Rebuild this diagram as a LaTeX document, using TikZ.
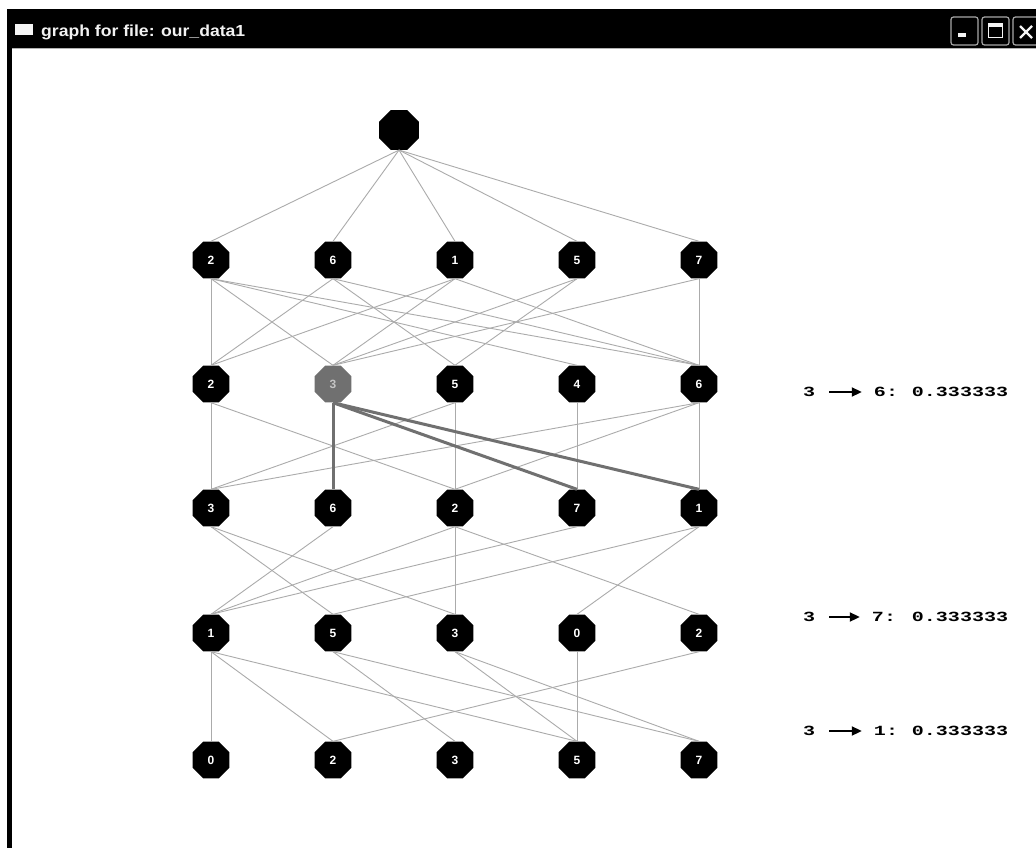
\documentclass[tikz,border=0pt]{standalone}
\usepackage{fontspec}
\usepackage{graphicx}
\setmainfont{Liberation Sans}
\newfontfamily\monofnt{Liberation Mono}
\usetikzlibrary{shapes.geometric,arrows.meta}
\definecolor{edgegray}{HTML}{ABABAB}
\definecolor{hgray}{HTML}{707070}
\definecolor{hlabel}{HTML}{C4C4C4}
\definecolor{btngray}{HTML}{A8A8A8}
\newcommand\widetxt[1]{\scalebox{1.43}[1]{#1}}
\begin{document}
\begin{tikzpicture}[x=1pt,y=-1pt,
  vtx/.style={regular polygon,regular polygon sides=8,minimum size=40pt,inner sep=0pt,
    fill=black,text=white,font=\fontsize{12}{12}\selectfont\bfseries},
  hvtx/.style={vtx,fill=hgray,text=hlabel},
  rootvtx/.style={vtx,minimum size=43pt},
  edge/.style={draw=edgegray,line width=0.9pt},
  hedge/.style={draw=hgray,line width=3pt},
  rt/.style={inner sep=0pt,font=\monofnt\bfseries\fontsize{14}{14}\selectfont},
  rarrow/.style={line width=2pt,-{Triangle[length=10pt,width=9pt]}},
  btn/.style={draw=btngray,line width=1.2pt,rounded corners=2.5pt,fill=black}
]
\useasboundingbox (0,0) rectangle (1036,848);
\fill[white] (0,0) rectangle (1036,848);
% window frame
\fill[black] (7,9) rectangle (1040,48);
\fill[black] (7,48) rectangle (12,848);
\draw[gray!60,line width=0.8pt] (12,48.6) -- (1036,48.6);
\fill[white!92!gray] (15,24) rectangle (33,35);
\node[anchor=west,inner sep=0pt,text=white!90!gray,font=\fontsize{16}{16}\selectfont\bfseries] (title) at (41,32) {\scalebox{1.1}[1]{graph for file: our\_data1}};
% buttons
\draw[btn] (951,17) rectangle (978,45);
\fill[white!92!gray] (958,33) rectangle (966,37);
\draw[btn] (982,17) rectangle (1009,45);
\draw[white!92!gray,line width=1.2pt] (988.5,23.5) rectangle (1002.5,37.5);
\fill[white!92!gray] (988,23) rectangle (1003,27);
\draw[btn] (1013,17) rectangle (1044,45);
\draw[white!92!gray,line width=2.4pt] (1020,26) -- (1032,38) (1032,26) -- (1020,38);

% nodes
\node[rootvtx] (r) at (399,130) {};
\foreach \n/\x/\l in {1/211/2,2/333/6,3/455/1,4/577/5,5/699/7}
  \node[vtx] (a\n) at (\x,260) {\l};
\node[vtx] (b1) at (211,384) {2};
\node[hvtx] (b2) at (333,384) {3};
\node[vtx] (b3) at (455,384) {5};
\node[vtx] (b4) at (577,384) {4};
\node[vtx] (b5) at (699,384) {6};
\foreach \n/\x/\l in {1/211/3,2/333/6,3/455/2,4/577/7,5/699/1}
  \node[vtx] (c\n) at (\x,508) {\l};
\foreach \n/\x/\l in {1/211/1,2/333/5,3/455/3,4/577/0,5/699/2}
  \node[vtx] (d\n) at (\x,633) {\l};
\foreach \n/\x/\l in {1/211/0,2/333/2,3/455/3,4/577/5,5/699/7}
  \node[vtx] (e\n) at (\x,760) {\l};

% edges root -> row 1
\foreach \t in {a1,a2,a3,a4,a5}
  \draw[edge] (r.south) -- (\t.north);
% row 1 -> row 2
\foreach \s/\t in {a1/b1,a1/b2,a1/b4,a1/b5,a2/b1,a2/b3,a2/b5,a3/b1,a3/b2,a3/b5,a4/b2,a4/b3,a5/b2,a5/b5}
  \draw[edge] (\s.south) -- (\t.north);
% row 2 -> row 3
\foreach \s/\t in {b1/c1,b1/c3,b3/c1,b3/c3,b4/c4,b5/c5,b5/c1,b5/c3}
  \draw[edge] (\s.south) -- (\t.north);
\foreach \t in {c2,c4,c5}
  \draw[hedge] (b2.south) -- (\t.north);
% row 3 -> row 4
\foreach \s/\t in {c1/d2,c1/d3,c2/d1,c3/d1,c3/d3,c3/d5,c4/d1,c5/d2,c5/d4}
  \draw[edge] (\s.south) -- (\t.north);
% row 4 -> row 5
\foreach \s/\t in {d1/e1,d1/e2,d1/e4,d2/e3,d2/e5,d3/e4,d3/e5,d4/e4,d5/e2}
  \draw[edge] (\s.south) -- (\t.north);

% side texts
\node[rt] (s1) at (809,392) {\widetxt{3}};
\node[rt] (s1t) at (886,392) {\widetxt{6:}};
\node[rt] (s1v) at (960,392) {\widetxt{0.333333}};
\draw[rarrow] ([xshift=14pt]s1.east) -- ([xshift=-12pt]s1t.west);

\node[rt] (s2) at (809,617) {\widetxt{3}};
\node[rt] (s2t) at (884,617) {\widetxt{7:}};
\node[rt] (s2v) at (960,617) {\widetxt{0.333333}};
\draw[rarrow] ([xshift=14pt]s2.east) -- ([xshift=-12pt]s2t.west);

\node[rt] (s3) at (809,731) {\widetxt{3}};
\node[rt] (s3t) at (886,731) {\widetxt{1:}};
\node[rt] (s3v) at (960,731) {\widetxt{0.333333}};
\draw[rarrow] ([xshift=14pt]s3.east) -- ([xshift=-12pt]s3t.west);
\end{tikzpicture}
\end{document}
